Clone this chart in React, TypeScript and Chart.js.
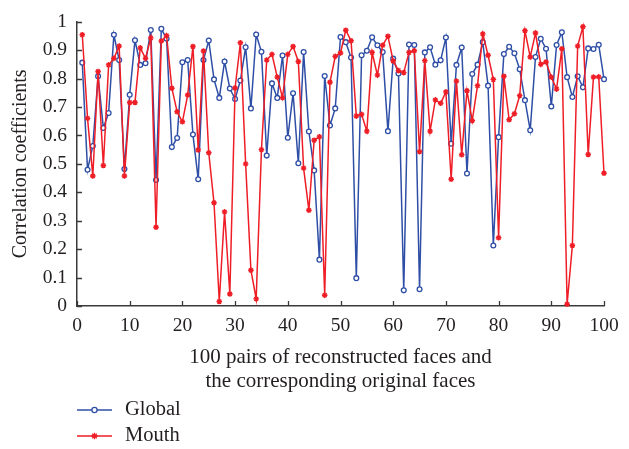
import React, { useEffect, useRef } from 'react';
import { Chart, registerables } from 'chart.js';

Chart.register(...registerables);

const pairIndex: number[] = Array.from({ length: 100 }, (_, i) => i + 1);

const globalValues: number[] = [
  0.856, 0.479, 0.563, 0.808, 0.626, 0.679, 0.954, 0.865, 0.482, 0.743,
  0.935, 0.848, 0.854, 0.971, 0.443, 0.975, 0.940, 0.559, 0.591, 0.857,
  0.865, 0.603, 0.446, 0.865, 0.934, 0.797, 0.732, 0.860, 0.765, 0.728,
  0.793, 0.910, 0.695, 0.955, 0.894, 0.529, 0.783, 0.732, 0.881, 0.592,
  0.748, 0.502, 0.893, 0.614, 0.477, 0.163, 0.809, 0.635, 0.695, 0.946,
  0.928, 0.874, 0.098, 0.882, 0.898, 0.945, 0.917, 0.893, 0.615, 0.870,
  0.818, 0.055, 0.920, 0.918, 0.059, 0.892, 0.910, 0.849, 0.864, 0.944,
  0.571, 0.848, 0.909, 0.466, 0.816, 0.849, 0.928, 0.775, 0.213, 0.594,
  0.886, 0.912, 0.889, 0.833, 0.724, 0.618, 0.876, 0.940, 0.905, 0.702,
  0.918, 0.963, 0.805, 0.735, 0.808, 0.769, 0.906, 0.904, 0.919, 0.798,
];

const mouthValues: number[] = [
  0.954, 0.660, 0.457, 0.825, 0.494, 0.848, 0.871, 0.914, 0.457, 0.716,
  0.716, 0.908, 0.871, 0.943, 0.277, 0.932, 0.951, 0.766, 0.683, 0.648,
  0.742, 0.913, 0.549, 0.897, 0.539, 0.363, 0.016, 0.331, 0.042, 0.767,
  0.926, 0.500, 0.126, 0.025, 0.550, 0.865, 0.885, 0.805, 0.733, 0.885,
  0.913, 0.860, 0.485, 0.337, 0.583, 0.595, 0.038, 0.787, 0.878, 0.890,
  0.970, 0.933, 0.668, 0.674, 0.615, 0.892, 0.812, 0.917, 0.949, 0.862,
  0.828, 0.821, 0.892, 0.898, 0.543, 0.863, 0.615, 0.725, 0.713, 0.753,
  0.446, 0.791, 0.532, 0.757, 0.652, 0.775, 0.957, 0.882, 0.797, 0.240,
  0.808, 0.655, 0.676, 0.740, 0.968, 0.876, 0.960, 0.850, 0.858, 0.805,
  0.763, 0.905, 0.006, 0.213, 0.914, 0.982, 0.533, 0.805, 0.806, 0.467,
];

const seriesNames: string[] = ['Global', 'Mouth'];
const xTitle: string[] = ['100 pairs of reconstructed faces and', 'the corresponding original faces'];
const yTitle = 'Correlation coefficients';

const BLUE = '#2f4fa6';
const RED = '#ee1d26';
const AXIS = '#3a3a3a';
const TEXT = '#231f20';
const FONT = "'Liberation Serif', 'DejaVu Serif', serif";

function drawMarker(ctx: CanvasRenderingContext2D, style: string, x: number, y: number, r: number, color: string) {
  ctx.save();
  ctx.strokeStyle = color;
  ctx.lineWidth = 1.3;
  if (style === 'circle') {
    ctx.fillStyle = '#ffffff';
    ctx.beginPath();
    ctx.arc(x, y, r, 0, Math.PI * 2);
    ctx.fill();
    ctx.stroke();
  } else {
    ctx.beginPath();
    for (let k = 0; k < 4; k++) {
      const a = (k * Math.PI) / 4;
      ctx.moveTo(x - Math.cos(a) * r, y - Math.sin(a) * r);
      ctx.lineTo(x + Math.cos(a) * r, y + Math.sin(a) * r);
    }
    ctx.stroke();
  }
  ctx.restore();
}

const inwardTicks = {
  id: 'inwardTicks',
  afterDraw(chart: any) {
    const { ctx, chartArea } = chart;
    const xs = chart.scales.x;
    const ys = chart.scales.y;
    ctx.save();
    ctx.strokeStyle = AXIS;
    ctx.lineWidth = 1.3;
    ctx.beginPath();
    xs.ticks.forEach((t: any) => {
      const px = Math.round(xs.getPixelForValue(t.value)) + 0.5;
      ctx.moveTo(px, chartArea.bottom);
      ctx.lineTo(px, chartArea.bottom - 5);
    });
    ys.ticks.forEach((t: any) => {
      const py = Math.round(ys.getPixelForValue(t.value)) + 0.5;
      ctx.moveTo(chartArea.left, py);
      ctx.lineTo(chartArea.left + 5, py);
    });
    ctx.stroke();
    ctx.restore();
  },
};

const stackedLegend = {
  id: 'stackedLegend',
  afterDraw(chart: any) {
    const { ctx } = chart;
    const rows = [410, 436];
    const styles = ['circle', 'star'];
    const colors = [BLUE, RED];
    ctx.save();
    seriesNames.forEach((name, i) => {
      const y = rows[i];
      ctx.strokeStyle = colors[i];
      ctx.lineWidth = 1.5;
      ctx.beginPath();
      ctx.moveTo(77, y);
      ctx.lineTo(112, y);
      ctx.stroke();
      drawMarker(ctx, styles[i], 94.5, y, styles[i] === 'circle' ? 2.6 : 3.2, colors[i]);
      ctx.fillStyle = TEXT;
      ctx.font = `20.5px ${FONT}`;
      ctx.textBaseline = 'middle';
      ctx.textAlign = 'left';
      ctx.fillText(name, 125, y);
    });
    ctx.restore();
  },
};

export default function App() {
  const ref = useRef<HTMLCanvasElement>(null);

  useEffect(() => {
    if (!ref.current) return;
    Chart.defaults.font.family = FONT;
    Chart.defaults.color = TEXT;
    const chart = new Chart(ref.current, {
      type: 'line',
      data: {
        datasets: [
          {
            label: seriesNames[0],
            data: pairIndex.map((x, i) => ({ x, y: globalValues[i] })),
            borderColor: BLUE,
            backgroundColor: '#ffffff',
            borderWidth: 1.5,
            pointStyle: 'circle',
            pointRadius: 2.4,
            pointBorderWidth: 1.3,
            pointBorderColor: BLUE,
            pointBackgroundColor: '#ffffff',
            tension: 0,
            order: 1,
            clip: 6,
          },
          {
            label: seriesNames[1],
            data: pairIndex.map((x, i) => ({ x, y: mouthValues[i] })),
            borderColor: RED,
            backgroundColor: RED,
            borderWidth: 1.5,
            pointStyle: 'star',
            pointRadius: 2.8,
            pointBorderWidth: 1.4,
            pointBorderColor: RED,
            tension: 0,
            order: 0,
            clip: 6,
          },
        ],
      },
      options: {
        animation: false,
        responsive: false,
        devicePixelRatio: 1,
        layout: { padding: { top: 14, right: 25, bottom: 50, left: 0 } },
        plugins: {
          legend: { display: false },
          tooltip: { enabled: false },
        },
        scales: {
          x: {
            type: 'linear',
            min: 0,
            max: 100,
            grid: { display: false, drawTicks: false },
            border: { display: true, color: AXIS, width: 1.5 },
            ticks: {
              stepSize: 10,
              autoSkip: false,
              maxRotation: 0,
              padding: 8,
              color: TEXT,
              font: { size: 19.5, family: FONT },
            },
            title: {
              display: true,
              text: xTitle,
              color: TEXT,
              font: { size: 21, family: FONT, lineHeight: 1.14 },
              padding: { top: 0, bottom: 6 },
            },
            afterFit: (s: any) => {
              s.height = 449 - 306 - 50;
            },
          },
          y: {
            min: 0,
            max: 1,
            grid: { display: false, drawTicks: false },
            border: { display: true, color: AXIS, width: 1.5 },
            ticks: {
              stepSize: 0.1,
              padding: 10,
              color: TEXT,
              font: { size: 19.5, family: FONT },
              callback: (v: any) => {
                const n = Number(v);
                if (Math.abs(n) < 1e-9) return '0';
                if (Math.abs(n - 1) < 1e-9) return '1';
                return n.toFixed(1);
              },
            },
            title: {
              display: true,
              text: yTitle,
              color: TEXT,
              font: { size: 20, family: FONT, lineHeight: 1.2 },
              padding: { top: 9, bottom: 0 },
            },
            afterFit: (s: any) => {
              s.width = 77;
            },
          },
        },
      },
      plugins: [inwardTicks, stackedLegend],
    });
    return () => chart.destroy();
  }, []);

  return (
    <div style={{ position: 'absolute', left: 0, top: 0, width: 629, height: 449, background: '#ffffff' }}>
      <canvas ref={ref} width={629} height={449} style={{ display: 'block', width: 629, height: 449 }} />
    </div>
  );
}
